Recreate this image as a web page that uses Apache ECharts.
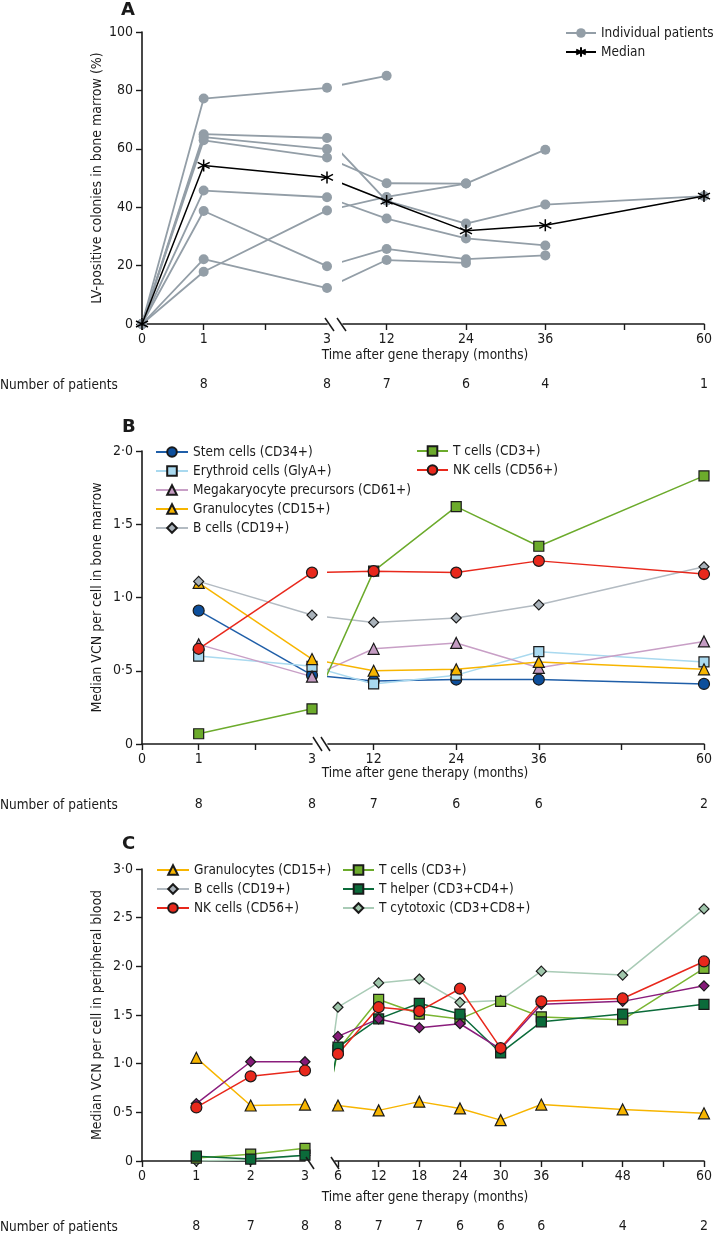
<!DOCTYPE html>
<html><head><meta charset="utf-8">
<script src="https://cdn.jsdelivr.net/npm/echarts@6/dist/echarts.min.js"></script>
<style>html,body{margin:0;padding:0;background:#fff}#c{width:715px;height:1236px}</style>
</head><body><div id="c"></div>
<script>
// ---------------- Panel A : LV-positive colonies in bone marrow (%) ----------------
const monthsA = [0, 1, 3, 12, 24, 36, 60];
const patient1A = [0, 77.2, 80.9, 85.0, null, null, null];
const patient2A = [0, 65.0, 63.7, 42.2, 34.4, 40.9, 43.8];
const patient3A = [0, 64.0, 59.9, null, null, null, null];
const patient4A = [0, 62.9, 57.0, 48.2, 48.1, null, null];
const patient5A = [0, 45.7, 43.4, 36.1, 29.3, 26.9, null];
const patient6A = [0, 38.7, 19.8, 25.7, 22.2, 23.5, null];
const patient7A = [0, 22.2, 12.3, 21.9, 20.9, null, null];
const patient8A = [0, 17.9, 38.9, 43.5, 48.1, 59.7, null];
const medianA   = [0, 54.3, 50.2, 42.1, 31.9, 33.8, 43.8];
const countMonthsA = [1, 3, 12, 24, 36, 60];
const countsA      = [8, 8, 7, 6, 4, 1];

// ---------------- Panel B : median VCN per cell in bone marrow ----------------
const monthsB = [1, 3, 12, 24, 36, 60];
const stemB   = [0.91, 0.47, 0.43, 0.44, 0.44, 0.41];
const erythB  = [0.60, 0.53, 0.41, 0.47, 0.63, 0.56];
const megaB   = [0.68, 0.46, 0.65, 0.69, 0.52, 0.70];
const granB   = [1.10, 0.58, 0.50, 0.51, 0.56, 0.51];
const bcellB  = [1.11, 0.88, 0.83, 0.86, 0.95, 1.21];
const tcellB  = [0.07, 0.24, 1.18, 1.62, 1.35, 1.83];
const nkB     = [0.65, 1.17, 1.18, 1.17, 1.25, 1.16];
const countMonthsB = [1, 3, 12, 24, 36, 60];
const countsB      = [8, 8, 7, 6, 6, 2];

// ---------------- Panel C : median VCN per cell in peripheral blood ----------------
const monthsC  = [1, 2, 3, 6, 12, 18, 24, 30, 36, 48, 60];
const granC    = [1.06, 0.57, 0.58, 0.57, 0.52, 0.61, 0.54, 0.42, 0.58, 0.53, 0.49];
const bcellC   = [0.59, 1.02, 1.02, 1.28, 1.46, 1.37, 1.41, 1.15, 1.61, 1.64, 1.80];
const nkC      = [0.55, 0.87, 0.93, 1.10, 1.58, 1.54, 1.77, 1.16, 1.64, 1.67, 2.05];
const tcellC   = [0.03, 0.07, 0.13, 1.14, 1.66, 1.51, 1.46, 1.64, 1.48, 1.45, 1.98];
const thelpC   = [0.05, 0.02, 0.06, 1.17, 1.46, 1.62, 1.51, 1.11, 1.43, 1.51, 1.61];
const tcytoC   = [0.00, 0.01, 0.06, 1.58, 1.83, 1.87, 1.63, 1.65, 1.95, 1.91, 2.59];
const countMonthsC = [1, 2, 3, 6, 12, 18, 24, 30, 36, 48, 60];
const countsC      = [8, 7, 8, 8, 7, 7, 6, 6, 6, 4, 2];

// ---------------- tick values ----------------
const leftTicksAB   = [0, 1, 2];
const leftLabelsAB  = [0, 1, 3];
const rightTicksAB  = [12, 24, 36, 48, 60];
const rightLabelsAB = [12, 24, 36, 60];
const leftTicksC    = [0, 1, 2];
const leftLabelsC   = [0, 1, 2, 3];
const rightTicksC   = [6, 12, 18, 24, 30, 36, 42, 48, 54, 60];
const rightLabelsC  = [6, 12, 18, 24, 30, 36, 48, 60];

// ---------------- styling / layout ----------------
const FONT = "'DejaVu Sans Condensed','DejaVu Sans',sans-serif";
const INK = '#1a1a1a';
const BREAK = 3;
const ASTERISK = 'path://M6,0L6,12M0.8,3L11.2,9M0.8,9L11.2,3';
const dotFmt = v => v === 0 ? '0' : v.toFixed(1).replace('.', '\u00B7');

const option = {
  animation: false, backgroundColor: '#fff',
  textStyle: { fontFamily: FONT },
  grid: [], xAxis: [], yAxis: [], series: [], legend: [], graphic: []
};

function splitSeries(months, values) {
  const left = [], right = [];
  months.forEach((m, i) => {
    const v = values[i];
    if (v == null) return;
    if (m <= BREAK) left.push([m, v]);
    if (m >= BREAK) right.push(m === BREAK ? { value: [m, v], symbol: 'none' } : [m, v]);
  });
  return { left, right };
}

function xAxisObj(grid, min, max, ticks, labels) {
  return {
    type: 'value', gridIndex: grid, min, max,
    axisLine: { show: true, onZero: false, lineStyle: { color: INK, width: 1.6 } },
    axisTick: { show: true, length: 6, customValues: ticks, lineStyle: { color: INK, width: 1.4 } },
    axisLabel: { customValues: labels, color: INK, fontSize: 14, margin: 8, fontFamily: FONT },
    splitLine: { show: false }
  };
}
function countAxisObj(grid, min, max, months, counts, offset) {
  const vis = months.filter(m => m >= min && m <= max);
  return {
    type: 'value', gridIndex: grid, min, max, position: 'bottom', offset,
    axisLine: { show: false }, axisTick: { show: false }, splitLine: { show: false },
    axisLabel: { customValues: vis, formatter: v => String(counts[months.indexOf(v)]),
                 color: INK, fontSize: 14, margin: 8, fontFamily: FONT }
  };
}

function addPanel(P) {
  const g = option.grid.length, xa = option.xAxis.length, ya = option.yAxis.length;
  option.grid.push({ left: P.leftX, top: P.top, width: P.leftW, height: P.height });
  option.grid.push({ left: P.rightX, top: P.top, width: P.x60 - P.rightX, height: P.height });
  const scale = (P.x60 - P.refX) / (60 - P.refMonth);
  const rightMin = P.refMonth - (P.refX - P.rightX) / scale;

  option.xAxis.push(xAxisObj(g, 0, 3, P.leftTicks, P.leftLabels));
  option.xAxis.push(xAxisObj(g + 1, rightMin, 60, P.rightTicks, P.rightLabels));
  option.xAxis.push(countAxisObj(g, 0, 3, P.countMonths, P.counts, P.countOffset));
  option.xAxis.push(countAxisObj(g + 1, rightMin, 60, P.countMonths, P.counts, P.countOffset));

  option.yAxis.push({
    type: 'value', gridIndex: g, min: P.ymin, max: P.ymax, interval: P.yint,
    name: P.yName, nameLocation: 'middle', nameGap: P.nameGap,
    nameTextStyle: { color: INK, fontSize: 14, fontFamily: FONT },
    axisLine: { show: true, lineStyle: { color: INK, width: 1.6 } },
    axisTick: { show: true, length: 6, lineStyle: { color: INK, width: 1.4 } },
    axisLabel: { color: INK, fontSize: 14, margin: 9, formatter: P.yFmt, fontFamily: FONT },
    splitLine: { show: false }
  });
  option.yAxis.push({ type: 'value', gridIndex: g + 1, min: P.ymin, max: P.ymax, show: false, splitLine: { show: false } });

  P.series.forEach(d => {
    const { left, right } = splitSeries(P.months, d.values);
    const base = {
      type: 'line', name: d.name, symbol: d.symbol, symbolSize: d.size,
      lineStyle: { color: d.line, width: d.lw || 1.5 },
      itemStyle: { color: d.fill, borderColor: d.border || INK, borderWidth: d.bw == null ? 1.2 : d.bw },
      emphasis: { disabled: true }, clip: true, z: d.z || 2
    };
    option.series.push(Object.assign({}, base, { xAxisIndex: xa, yAxisIndex: ya, data: left }));
    option.series.push(Object.assign({}, base, { xAxisIndex: xa + 1, yAxisIndex: ya + 1, data: right }));
  });

  P.legends.forEach(L => option.legend.push({
    orient: 'vertical', left: L.left, top: L.top, padding: 0, itemWidth: L.w, itemHeight: 12, itemGap: 3,
    selectedMode: false, data: L.data,
    textStyle: { color: INK, fontSize: 13.5, lineHeight: 16, fontFamily: FONT }
  }));

  option.graphic.push({ type: 'text', x: P.letterX, y: P.letterY, z: 100,
    style: { text: P.letter, font: "bold 18px 'DejaVu Sans',sans-serif", fill: INK } });
  option.graphic.push({ type: 'text', x: 425, y: P.xNameY, z: 100,
    style: { text: 'Time after gene therapy (months)', font: '13.5px ' + FONT, fill: INK, align: 'center', verticalAlign: 'middle' } });
  option.graphic.push({ type: 'text', x: 0, y: P.countY, z: 100,
    style: { text: 'Number of patients', font: '13.5px ' + FONT, fill: INK, align: 'left', verticalAlign: 'middle' } });
  P.slashes.forEach(s => option.graphic.push({ type: 'line', z: 100,
    shape: { x1: s[0], y1: s[1], x2: s[2], y2: s[3] }, style: { stroke: INK, lineWidth: 1.5 } }));
}

// Panel A
const GREY = '#939ea7';
const patientsA = [patient1A, patient2A, patient3A, patient4A, patient5A, patient6A, patient7A, patient8A];
addPanel({
  top: 32, height: 292, leftX: 142, leftW: 185, rightX: 343, x60: 707, refMonth: 12, refX: 387,
  ymin: 0, ymax: 100, yint: 20, yFmt: v => String(v), yName: 'LV-positive colonies in bone marrow (%)', nameGap: 38,
  leftTicks: leftTicksAB, leftLabels: leftLabelsAB, rightTicks: rightTicksAB, rightLabels: rightLabelsAB,
  countMonths: countMonthsA, counts: countsA, countOffset: 45,
  months: monthsA,
  series: patientsA.map(p => ({ name: 'Individual patients', values: p, symbol: 'circle', size: 10, fill: GREY, line: GREY, bw: 0, lw: 1.8 }))
    .concat([{ name: 'Median', values: medianA, symbol: ASTERISK, size: 12, fill: '#000', line: '#000', border: '#000', bw: 1.5, lw: 1.5, z: 5 }]),
  legends: [{ left: 565, top: 25, w: 30, data: ['Individual patients', 'Median'] }],
  letter: 'A', letterX: 121, letterY: 1, xNameY: 355, countY: 385,
  slashes: [[325, 318, 334, 331], [337, 318, 346, 331]]
});

// Panel B
addPanel({
  top: 451, height: 293, leftX: 142, leftW: 170, rightX: 328, x60: 707, refMonth: 12, refX: 374,
  ymin: 0, ymax: 2, yint: 0.5, yFmt: dotFmt, yName: 'Median VCN per cell in bone marrow', nameGap: 38,
  leftTicks: leftTicksAB, leftLabels: leftLabelsAB, rightTicks: rightTicksAB, rightLabels: rightLabelsAB,
  countMonths: countMonthsB, counts: countsB, countOffset: 45,
  months: monthsB,
  series: [
    { name: 'Stem cells (CD34+)', values: stemB, symbol: 'circle', size: 11, fill: '#0d4f9c', line: '#1f5ea8' },
    { name: 'Erythroid cells (GlyA+)', values: erythB, symbol: 'rect', size: 10, fill: '#a9d9ef', line: '#a9d9ef' },
    { name: 'Megakaryocyte precursors (CD61+)', values: megaB, symbol: 'triangle', size: 11, fill: '#c49bc2', line: '#c89fc6' },
    { name: 'Granulocytes (CD15+)', values: granB, symbol: 'triangle', size: 11, fill: '#f7b500', line: '#f7b500' },
    { name: 'B cells (CD19+)', values: bcellB, symbol: 'diamond', size: 10, fill: '#a9b2ba', line: '#b3bbc2' },
    { name: 'T cells (CD3+)', values: tcellB, symbol: 'rect', size: 10, fill: '#6cab2c', line: '#6cab2c' },
    { name: 'NK cells (CD56+)', values: nkB, symbol: 'circle', size: 11, fill: '#e8281c', line: '#e8281c' }
  ],
  legends: [
    { left: 155, top: 444, w: 32, data: ['Stem cells (CD34+)', 'Erythroid cells (GlyA+)', 'Megakaryocyte precursors (CD61+)', 'Granulocytes (CD15+)', 'B cells (CD19+)'] },
    { left: 416, top: 443, w: 31, data: ['T cells (CD3+)', 'NK cells (CD56+)'] }
  ],
  letter: 'B', letterX: 122, letterY: 418, xNameY: 773, countY: 805,
  slashes: [[313, 737, 322, 751], [321, 737, 330, 751]]
});

// Panel C
addPanel({
  top: 869, height: 292, leftX: 142, leftW: 163, rightX: 335, x60: 707, refMonth: 6, refX: 338,
  ymin: 0, ymax: 3, yint: 0.5, yFmt: dotFmt, yName: 'Median VCN per cell in peripheral blood', nameGap: 38,
  leftTicks: leftTicksC, leftLabels: leftLabelsC, rightTicks: rightTicksC, rightLabels: rightLabelsC,
  countMonths: countMonthsC, counts: countsC, countOffset: 50,
  months: monthsC,
  series: [
    { name: 'T cytotoxic (CD3+CD8+)', values: tcytoC, symbol: 'diamond', size: 10, fill: '#9fc6ab', line: '#a9cbb6' },
    { name: 'Granulocytes (CD15+)', values: granC, symbol: 'triangle', size: 11, fill: '#f7b500', line: '#f7b500' },
    { name: 'T cells (CD3+)', values: tcellC, symbol: 'rect', size: 10, fill: '#7ab532', line: '#7ab532' },
    { name: 'T helper (CD3+CD4+)', values: thelpC, symbol: 'rect', size: 10, fill: '#0b6b3a', line: '#0b6b3a' },
    { name: 'B cells (CD19+)', values: bcellC, symbol: 'diamond', size: 10, fill: '#851a78', line: '#8a1d7c' },
    { name: 'NK cells (CD56+)', values: nkC, symbol: 'circle', size: 11, fill: '#e8281c', line: '#e8281c' }
  ],
  legends: [
    { left: 156, top: 862, w: 32, data: ['Granulocytes (CD15+)', 'B cells (CD19+)', 'NK cells (CD56+)'] },
    { left: 342, top: 862, w: 31, data: ['T cells (CD3+)', 'T helper (CD3+CD4+)', 'T cytotoxic (CD3+CD8+)'] }
  ],
  letter: 'C', letterX: 122, letterY: 835, xNameY: 1197, countY: 1227,
  slashes: [[306, 1157, 314, 1169], [331, 1157, 339, 1169]]
});

const chart = echarts.init(document.getElementById('c'), null, { renderer: 'canvas' });
chart.setOption(option);
</script></body></html>
